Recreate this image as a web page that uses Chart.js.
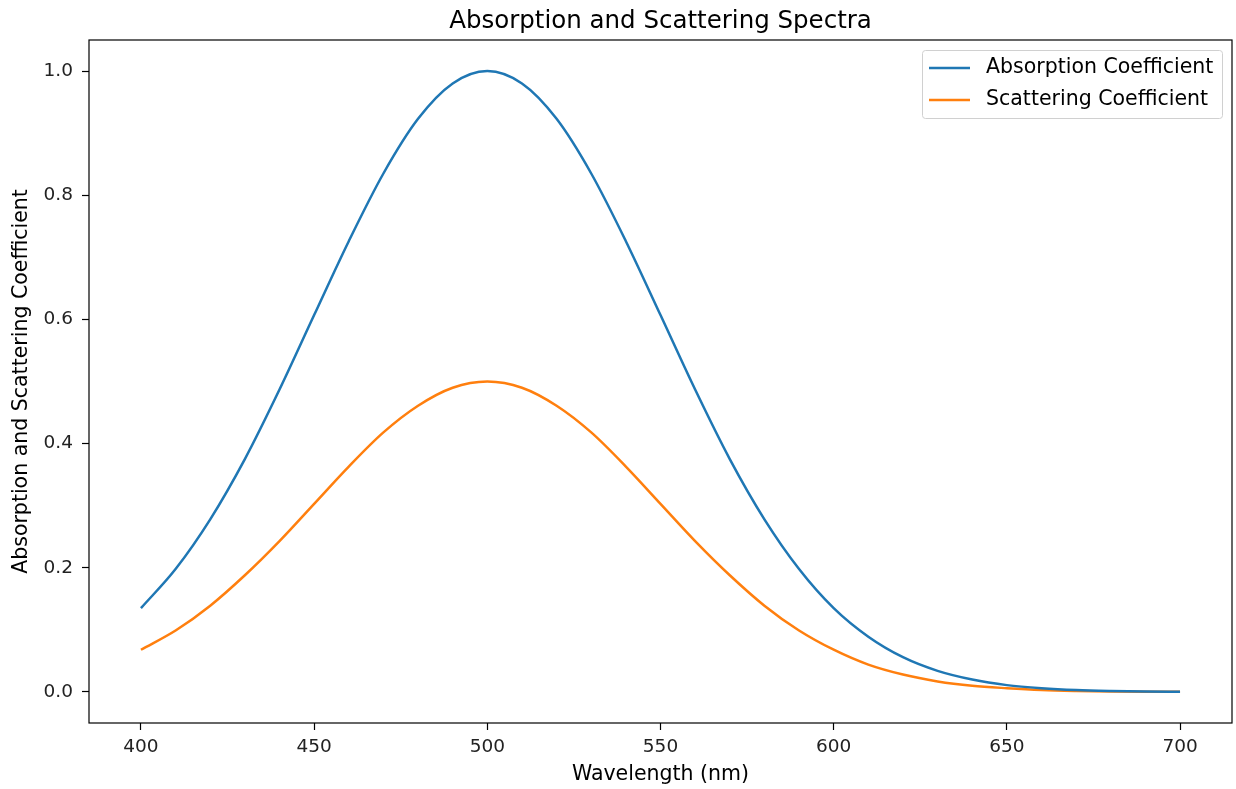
<!DOCTYPE html>
<html><head><meta charset="utf-8">
<script src="https://cdn.jsdelivr.net/npm/chart.js@4/dist/chart.umd.min.js"></script>
<style>html,body{margin:0;padding:0;background:#fff}#wrap{width:1236px;height:789px}</style>
</head><body><div id="wrap"><canvas id="c" width="1236" height="789"></canvas></div>
<script>
const wavelengths = [400,410,420,430,440,450,460,470,480,490,500,510,520,530,540,550,560,570,580,590,600,610,620,630,640,650,660,670,680,690,700];
const absorption = [0.135,0.198,0.278,0.375,0.487,0.607,0.726,0.835,0.923,0.980,1.000,0.980,0.923,0.835,0.726,0.607,0.487,0.375,0.278,0.198,0.135,0.089,0.056,0.034,0.020,0.011,0.006,0.003,0.0015,0.0007,0.0003];
const scattering = [0.068,0.099,0.139,0.188,0.243,0.303,0.363,0.418,0.461,0.490,0.500,0.490,0.461,0.418,0.363,0.303,0.243,0.188,0.139,0.099,0.068,0.044,0.028,0.017,0.010,0.006,0.003,0.0015,0.0007,0.0003,0.0002];
const xTicks = [400,450,500,550,600,650,700];
const yTicks = [0,0.2,0.4,0.6,0.8,1.0];
const seriesNames = ["Absorption Coefficient","Scattering Coefficient"];
const titleText = "Absorption and Scattering Spectra";
const xLabel = "Wavelength (nm)";
const yLabel = "Absorption and Scattering Coefficient";

const FONT = "'DejaVu Sans', sans-serif";
const toPts = ys => wavelengths.map((x,i)=>({x, y: ys[i]}));

const framePlugin = {
  id: 'frame',
  afterDraw(chart) {
    const {ctx, chartArea: a} = chart;
    ctx.save();
    ctx.strokeStyle = '#000'; ctx.lineWidth = 1.2;
    ctx.strokeRect(a.left, a.top, a.right - a.left, a.bottom - a.top);
    // title
    ctx.fillStyle = '#000';
    ctx.font = "24.5px " + FONT;
    ctx.textAlign = 'center'; ctx.textBaseline = 'alphabetic';
    ctx.fillText(titleText, (a.left + a.right) / 2, 28);
    // legend
    const lx = 922, ly = 50, lw = 300, lh = 68;
    ctx.fillStyle = 'rgba(255,255,255,0.8)';
    ctx.strokeStyle = '#d0d0d0'; ctx.lineWidth = 1;
    ctx.beginPath();
    if (ctx.roundRect) ctx.roundRect(lx + 0.5, ly + 0.5, lw, lh, 3); else ctx.rect(lx + 0.5, ly + 0.5, lw, lh);
    ctx.fill(); ctx.stroke();
    ctx.font = "20.5px " + FONT;
    ctx.textAlign = 'left'; ctx.textBaseline = 'middle';
    chart.data.datasets.forEach((ds, i) => {
      const y = ly + 18 + i * 32;
      ctx.strokeStyle = ds.borderColor; ctx.lineWidth = 2.5;
      ctx.beginPath(); ctx.moveTo(929, y); ctx.lineTo(970, y); ctx.stroke();
      ctx.fillStyle = '#000';
      ctx.fillText(ds.label, 986, y);
    });
    ctx.restore();
  }
};

new Chart(document.getElementById('c'), {
  type: 'line',
  data: {
    datasets: [
      {label: seriesNames[0], data: toPts(absorption), borderColor: '#1f77b4', borderWidth: 2.5, pointRadius: 0, cubicInterpolationMode: 'monotone', fill: false},
      {label: seriesNames[1], data: toPts(scattering), borderColor: '#ff7f0e', borderWidth: 2.5, pointRadius: 0, cubicInterpolationMode: 'monotone', fill: false}
    ]
  },
  options: {
    responsive: false, animation: false, devicePixelRatio: 1,
    layout: {padding: {top: 40, right: 4, left: 0, bottom: 0}},
    plugins: {legend: {display: false}, title: {display: false}, tooltip: {enabled: false}},
    scales: {
      x: {
        type: 'linear', min: 385, max: 715,
        afterBuildTicks: s => { s.ticks = xTicks.map(v => ({value: v})); },
        afterFit: s => { s.height = 66; },
        grid: {drawOnChartArea: false, drawTicks: true, tickLength: 7, color: '#000', tickWidth: 1.2},
        border: {display: false},
        ticks: {color: '#222', font: {family: FONT, size: 18.5}, padding: 6, maxRotation: 0},
        title: {display: true, text: xLabel, color: '#000', font: {family: FONT, size: 20.5}, padding: {top: 2, bottom: 2}}
      },
      y: {
        type: 'linear', min: -0.05, max: 1.05,
        afterBuildTicks: s => { s.ticks = yTicks.map(v => ({value: v})); },
        afterFit: s => { s.width = 89; },
        grid: {drawOnChartArea: false, drawTicks: true, tickLength: 7, color: '#000', tickWidth: 1.2},
        border: {display: false},
        ticks: {color: '#222', font: {family: FONT, size: 18.5}, padding: 9, callback: v => v.toFixed(1)},
        title: {display: true, text: yLabel, color: '#000', font: {family: FONT, size: 20.5}, padding: {top: 9, bottom: 4}}
      }
    }
  },
  plugins: [framePlugin]
});
</script></body></html>
